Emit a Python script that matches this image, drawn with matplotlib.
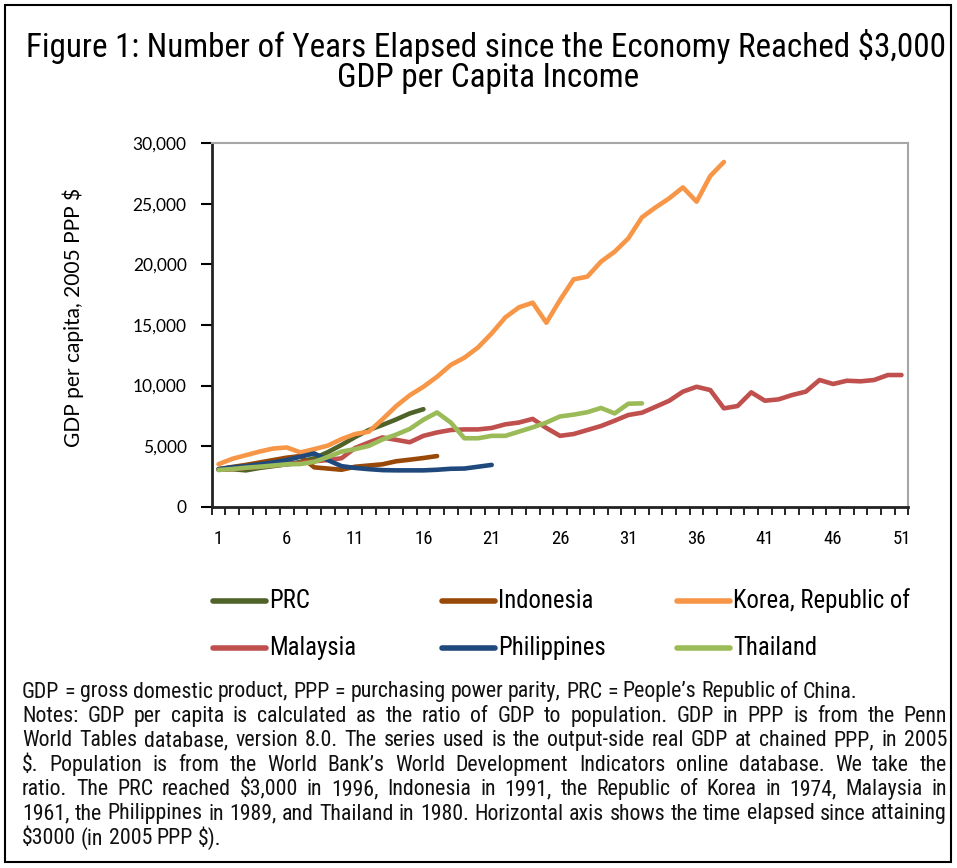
import numpy as np
import matplotlib
matplotlib.use("Agg")
import matplotlib.pyplot as plt
from matplotlib import font_manager
from matplotlib.lines import Line2D
from matplotlib.patches import Rectangle

plt.rcParams['text.parse_math'] = False

# GDP per capita, 2005 PPP $, by years elapsed since reaching $3,000
prc = [3050, 3100, 3000, 3200, 3350, 3500, 3700, 4000, 4500, 5100, 5750, 6330,
       6750, 7200, 7700, 8050]
indonesia = [3100, 3280, 3450, 3650, 3850, 4050, 4180, 3250, 3150, 3050, 3300,
             3400, 3500, 3750, 3880, 4020, 4180]
korea = [3510, 3950, 4250, 4550, 4800, 4890, 4480, 4750, 5040, 5580, 6000, 6190,
         7210, 8300, 9200, 9900, 10730, 11700, 12300, 13150, 14310, 15630, 16460,
         16840, 15190, 17060, 18770, 18990, 20230, 21050, 22150, 23890, 24710,
         25460, 26360, 25180, 27300, 28460]
malaysia = [3050, 3100, 3200, 3300, 3400, 3500, 3600, 3750, 3850, 4000, 4850,
            5300, 5720, 5520, 5320, 5850, 6130, 6330, 6380, 6380, 6500, 6800,
            6950, 7250, 6500, 5850, 6000, 6330, 6660, 7100, 7570, 7760, 8250,
            8750, 9500, 9900, 9630, 8120, 8310, 9440, 8750, 8860, 9220, 9500,
            10460, 10130, 10400, 10350, 10460, 10870, 10870]
philippines = [3100, 3250, 3350, 3500, 3650, 3850, 4130, 4400, 3850, 3350, 3200,
               3100, 3020, 3000, 3000, 3000, 3050, 3130, 3150, 3300, 3450]
thailand = [3030, 3110, 3220, 3300, 3400, 3500, 3520, 3700, 4100, 4550, 4750,
            5020, 5550, 5950, 6420, 7180, 7780, 6950, 5650, 5650, 5850, 5850,
            6200, 6550, 6950, 7450, 7600, 7800, 8150, 7700, 8500, 8530]

names = ["PRC", "Indonesia", "Korea, Republic of", "Malaysia", "Philippines", "Thailand"]
series = [prc, indonesia, korea, malaysia, philippines, thailand]
colors = ["#4F6228", "#984807", "#F79646", "#C0504D", "#1F497D", "#9BBB59"]

n_years = 51
xtick_labels = list(range(1, 52, 5))
yticks = list(range(0, 30001, 5000))

title_lines = ["Figure 1: Number of Years Elapsed since the Economy Reached $3,000",
               "GDP per Capita Income"]
ylabel = "GDP per capita, 2005 PPP $"
notes = [
    ("GDP = gross domestic product, PPP = purchasing power parity, PRC = People’s Republic of China.", False),
    ("Notes: GDP per capita is calculated as the ratio of GDP to population. GDP in PPP is from the Penn", True),
    ("World Tables database, version 8.0. The series used is the output-side real GDP at chained PPP, in 2005", True),
    ("$. Population is from the World Bank’s World Development Indicators online database. We take the", True),
    ("ratio. The PRC reached $3,000 in 1996, Indonesia in 1991, the Republic of Korea in 1974, Malaysia in", True),
    ("1961, the Philippines in 1989, and Thailand in 1980. Horizontal axis shows the time elapsed since attaining", True),
    ("$3000 (in 2005 PPP $).", False),
]

installed = {f.name for f in font_manager.fontManager.ttflist}
narrow = next((f for f in ["Liberation Sans Narrow", "Roboto Condensed", "Open Sans Condensed"]
               if f in installed), "Liberation Sans")
roundf = "Lato"

W, H = 957, 868
fig = plt.figure(figsize=(W / 100, H / 100), dpi=100)
renderer = fig.canvas.get_renderer()


def fpos(x, y):
    return x / W, 1 - y / H


def fit_size(text, family, target, base=10):
    t = fig.text(0, 0, text, fontsize=base, family=family)
    w = t.get_window_extent(renderer).width
    t.remove()
    return base * target / w


# outer frame
fig.add_artist(Rectangle(fpos(5, 862), 946 / W, 857 / H, transform=fig.transFigure,
                         fill=False, edgecolor="black", linewidth=1.5))

# title
ts = fit_size(title_lines[0], narrow, 913)
fig.text(*fpos(486, 46), title_lines[0], fontsize=ts, family=narrow, ha="center", va="center")
fig.text(*fpos(488, 78), title_lines[1], fontsize=ts, family=narrow, ha="center", va="center")

# plot area
left, right, top, bottom = 211.7, 908.3, 143.3, 506.7
ax = fig.add_axes([left / W, 1 - bottom / H, (right - left) / W, (bottom - top) / H])
for name, vals, c in zip(names, series, colors):
    x = np.arange(1, len(vals) + 1)
    ax.plot(x, vals, color=c, lw=3.3, solid_joinstyle="round", solid_capstyle="round", label=name)

ax.set_xlim(0.5, n_years + 0.5)
ax.set_ylim(0, 30000)
ax.set_yticks(yticks)
ax.set_yticklabels([f"{v:,}" for v in yticks], family=roundf, fontsize=12.5)
ax.tick_params(axis="y", direction="out", length=8, width=1.5, pad=10)
ax.set_xticks(np.arange(0.5, n_years + 1, 1))
ax.set_xticklabels([])
ax.tick_params(axis="x", which="major", direction="out", length=6, width=1.2)
ax.set_xticks(xtick_labels, minor=True)
ax.set_xticklabels([str(v) for v in xtick_labels], minor=True, family=narrow, fontsize=13.5)
ax.tick_params(axis="x", which="minor", length=0, pad=17)
for s in ["left", "bottom"]:
    ax.spines[s].set_linewidth(2)
    ax.spines[s].set_color("#222222")
for s in ["top", "right"]:
    ax.spines[s].set_linewidth(1.5)
    ax.spines[s].set_color("#A6A6A6")

ys = fit_size(ylabel, roundf, 260)
fig.text(*fpos(73, 317), ylabel, fontsize=ys, family=roundf, rotation=90, ha="center", va="center")

# legend, drawn as in the source: 3 columns x 2 rows
ls = fit_size(names[2], narrow, 177)
col_x = [213, 442, 677]
row_y = [601, 648]
for i, (name, c) in enumerate(zip(names, colors)):
    x0, y0 = col_x[i % 3], row_y[i // 3]
    fig.add_artist(Line2D([x0 / W, (x0 + 53) / W], [1 - y0 / H] * 2, transform=fig.transFigure,
                          color=c, lw=4, solid_capstyle="round"))
    fig.text(*fpos(x0 + 56, y0), name, fontsize=ls, family=narrow, va="center")

# notes, justified
nl, nr = 22, 947
ns = fit_size(notes[5][0], narrow, 912)
for k, (line, just) in enumerate(notes):
    y = 692 + k * 24.4
    words = line.split(" ")
    tw = [fig.text(0, 0, w, fontsize=ns, family=narrow, va="center", color="#111111")
          for w in words]
    widths = [t.get_window_extent(renderer).width for t in tw]
    if just:
        gap = (nr - nl - sum(widths)) / (len(words) - 1)
    else:
        sp = fig.text(0, 0, "a a", fontsize=ns, family=narrow)
        sa = fig.text(0, 0, "aa", fontsize=ns, family=narrow)
        gap = sp.get_window_extent(renderer).width - sa.get_window_extent(renderer).width
        sp.remove()
        sa.remove()
    x = nl
    for t, w in zip(tw, widths):
        t.set_position(fpos(x, y))
        x += w + gap

fig.savefig("out.png", dpi=100)
